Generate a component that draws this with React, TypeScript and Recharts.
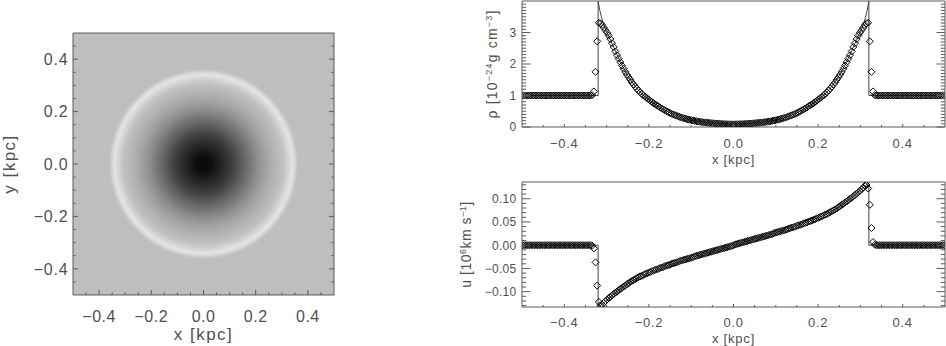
import React from 'react';
import { ComposedChart, XAxis, YAxis, Scatter, Line, ReferenceArea } from 'recharts';

// ---------- data ----------
const CELL_COUNT = 256;
const cellX = Array.from({ length: CELL_COUNT }, (_, i) => -0.5 + (i + 0.5) / CELL_COUNT);

// density per cell, 10^-24 g cm^-3
const rhoValues = [
  1, 1, 1, 1, 1, 1, 1, 1, 1, 1, 1, 1, 1, 1, 1, 1,
  1, 1, 1, 1, 1, 1, 1, 1, 1, 1, 1, 1, 1, 1, 1, 1,
  1, 1, 1, 1, 1, 1, 1, 1, 1, 1, 1.01, 1.13, 1.75, 2.72, 3.31, 3.29,
  3.24, 3.15, 3.07, 2.99, 2.9, 2.79, 2.66, 2.54, 2.4, 2.28, 2.17, 2.06, 1.95, 1.85, 1.75, 1.66,
  1.58, 1.5, 1.42, 1.35, 1.28, 1.22, 1.16, 1.1, 1.05, 1.0, 0.96, 0.92, 0.88, 0.84, 0.8, 0.76,
  0.72, 0.69, 0.66, 0.62, 0.59, 0.56, 0.53, 0.5, 0.47, 0.45, 0.42, 0.4, 0.38, 0.36, 0.34, 0.32,
  0.3, 0.285, 0.27, 0.255, 0.24, 0.23, 0.215, 0.205, 0.195, 0.185, 0.175, 0.167, 0.16, 0.152, 0.145, 0.14,
  0.135, 0.13, 0.125, 0.12, 0.115, 0.11, 0.107, 0.104, 0.1, 0.097, 0.094, 0.091, 0.089, 0.087, 0.085, 0.084,
  0.084, 0.085, 0.087, 0.089, 0.091, 0.094, 0.097, 0.1, 0.104, 0.107, 0.11, 0.115, 0.12, 0.125, 0.13, 0.135,
  0.14, 0.145, 0.152, 0.16, 0.167, 0.175, 0.185, 0.195, 0.205, 0.215, 0.23, 0.24, 0.255, 0.27, 0.285, 0.3,
  0.32, 0.34, 0.36, 0.38, 0.4, 0.42, 0.45, 0.47, 0.5, 0.53, 0.56, 0.59, 0.62, 0.66, 0.69, 0.72,
  0.76, 0.8, 0.84, 0.88, 0.92, 0.96, 1.0, 1.05, 1.1, 1.16, 1.22, 1.28, 1.35, 1.42, 1.5, 1.58,
  1.66, 1.75, 1.85, 1.95, 2.06, 2.17, 2.28, 2.4, 2.54, 2.66, 2.79, 2.9, 2.99, 3.07, 3.15, 3.24,
  3.29, 3.31, 2.72, 1.75, 1.13, 1.01, 1, 1, 1, 1, 1, 1, 1, 1, 1, 1,
  1, 1, 1, 1, 1, 1, 1, 1, 1, 1, 1, 1, 1, 1, 1, 1,
  1, 1, 1, 1, 1, 1, 1, 1, 1, 1, 1, 1, 1, 1, 1, 1,
];

// velocity per cell, 10^6 km s^-1
const uValues = [
  0, 0, 0, 0, 0, 0, 0, 0, 0, 0, 0, 0, 0, 0, 0, 0,
  0, 0, 0, 0, 0, 0, 0, 0, 0, 0, 0, 0, 0, 0, 0, 0,
  0, 0, 0, 0, 0, 0, 0, 0, 0, 0, -0.001, -0.007, -0.037, -0.087, -0.122, -0.1295,
  -0.128, -0.124, -0.12, -0.117, -0.114, -0.111, -0.108, -0.105, -0.102, -0.1, -0.097, -0.094, -0.092, -0.089, -0.087, -0.084,
  -0.082, -0.079, -0.077, -0.075, -0.073, -0.071, -0.069, -0.067, -0.066, -0.064, -0.062, -0.061, -0.059, -0.058, -0.056, -0.055,
  -0.053, -0.052, -0.051, -0.049, -0.048, -0.047, -0.045, -0.044, -0.043, -0.042, -0.04, -0.039, -0.038, -0.037, -0.036, -0.034,
  -0.033, -0.032, -0.031, -0.03, -0.029, -0.028, -0.027, -0.026, -0.024, -0.023, -0.022, -0.021, -0.02, -0.019, -0.018, -0.017,
  -0.016, -0.015, -0.014, -0.013, -0.012, -0.011, -0.01, -0.009, -0.008, -0.007, -0.006, -0.005, -0.004, -0.003, -0.002, -0.001,
  0.001, 0.002, 0.003, 0.004, 0.005, 0.006, 0.007, 0.008, 0.009, 0.01, 0.011, 0.012, 0.013, 0.014, 0.015, 0.016,
  0.017, 0.018, 0.019, 0.02, 0.021, 0.022, 0.023, 0.024, 0.026, 0.027, 0.028, 0.029, 0.03, 0.031, 0.032, 0.033,
  0.034, 0.036, 0.037, 0.038, 0.039, 0.04, 0.042, 0.043, 0.044, 0.045, 0.047, 0.048, 0.049, 0.051, 0.052, 0.053,
  0.055, 0.056, 0.058, 0.059, 0.061, 0.062, 0.064, 0.066, 0.067, 0.069, 0.071, 0.073, 0.075, 0.077, 0.079, 0.082,
  0.084, 0.087, 0.089, 0.092, 0.094, 0.097, 0.1, 0.102, 0.105, 0.108, 0.111, 0.114, 0.117, 0.12, 0.124, 0.128,
  0.1295, 0.122, 0.087, 0.037, 0.007, 0.001, 0, 0, 0, 0, 0, 0, 0, 0, 0, 0,
  0, 0, 0, 0, 0, 0, 0, 0, 0, 0, 0, 0, 0, 0, 0, 0,
  0, 0, 0, 0, 0, 0, 0, 0, 0, 0, 0, 0, 0, 0, 0, 0,
];

// analytic solution (solid line)
const lineX = [
  -0.5, -0.32, -0.32, -0.316, -0.312, -0.308, -0.304, -0.3, -0.29, -0.28, -0.27, -0.26, -0.25, -0.24,
  -0.23, -0.22, -0.21, -0.2, -0.18, -0.16, -0.14, -0.12, -0.1, -0.08, -0.06, -0.04, -0.02,
  0,
  0.02, 0.04, 0.06, 0.08, 0.1, 0.12, 0.14, 0.16, 0.18, 0.2, 0.21, 0.22, 0.23, 0.24,
  0.25, 0.26, 0.27, 0.28, 0.29, 0.3, 0.304, 0.308, 0.312, 0.316, 0.32, 0.32, 0.5,
];
const rhoLine = [
  1, 1, 4.0, 3.7, 3.48, 3.3, 3.15, 3.02, 2.74, 2.44, 2.14, 1.87, 1.63, 1.43,
  1.25, 1.1, 0.97, 0.87, 0.68, 0.52, 0.39, 0.29, 0.22, 0.17, 0.135, 0.11, 0.095,
  0.085,
  0.095, 0.11, 0.135, 0.17, 0.22, 0.29, 0.39, 0.52, 0.68, 0.87, 0.97, 1.1, 1.25, 1.43,
  1.63, 1.87, 2.14, 2.44, 2.74, 3.02, 3.15, 3.3, 3.48, 3.7, 4.0, 1, 1,
];
const uLine = [
  0, 0, -0.134, -0.131, -0.128, -0.125, -0.122, -0.119, -0.111, -0.103, -0.096, -0.089, -0.083, -0.077,
  -0.072, -0.068, -0.063, -0.059, -0.052, -0.045, -0.039, -0.033, -0.027, -0.021, -0.016, -0.011, -0.005,
  0,
  0.005, 0.011, 0.016, 0.021, 0.027, 0.033, 0.039, 0.045, 0.052, 0.059, 0.063, 0.068, 0.072, 0.077,
  0.083, 0.089, 0.096, 0.103, 0.111, 0.119, 0.122, 0.125, 0.128, 0.131, 0.134, 0, 0,
];

// 2-D density map: radial grey profile (radius in kpc, grey level 0-255)
const blastRadius = [0, 0.03, 0.06, 0.09, 0.12, 0.15, 0.18, 0.21, 0.24, 0.27, 0.295, 0.31, 0.325, 0.338, 0.345, 0.352, 0.358, 0.365];
const blastGray = [10, 14, 32, 50, 70, 96, 120, 144, 163, 178, 188, 196, 212, 226, 224, 210, 197, 190];
const ambientGray = 190;

// ticks
const kpcMajor = [-0.4, -0.2, 0, 0.2, 0.4];
const kpcLabels = ['\u22120.4', '\u22120.2', '0.0', '0.2', '0.4'];
const kpcMinor = [-0.45, -0.35, -0.3, -0.25, -0.15, -0.1, -0.05, 0.05, 0.1, 0.15, 0.25, 0.3, 0.35, 0.45];
const rhoMajor = [0, 1, 2, 3];
const rhoLabels = ['0', '1', '2', '3'];
const rhoMinor = [
  0.1, 0.2, 0.3, 0.4, 0.5, 0.6, 0.7, 0.8, 0.9, 1.1, 1.2, 1.3, 1.4, 1.5, 1.6, 1.7, 1.8, 1.9,
  2.1, 2.2, 2.3, 2.4, 2.5, 2.6, 2.7, 2.8, 2.9, 3.1, 3.2, 3.3, 3.4, 3.5, 3.6, 3.7, 3.8, 3.9,
];
const uMajor = [-0.1, -0.05, 0, 0.05, 0.1];
const uLabels = ['\u22120.10', '\u22120.05', '0.00', '0.05', '0.10'];
const uMinor = [
  -0.13, -0.12, -0.11, -0.09, -0.08, -0.07, -0.06, -0.04, -0.03, -0.02, -0.01,
  0.01, 0.02, 0.03, 0.04, 0.06, 0.07, 0.08, 0.09, 0.11, 0.12, 0.13,
];

const kpcDomain = [-0.5, 0.5];
const rhoDomain = [0, 4];
const uDomain = [-0.133, 0.136];

// ---------- derived tables ----------
const rhoPoints = cellX.map((x, i) => ({ x, y: rhoValues[i] }));
const uPoints = cellX.map((x, i) => ({ x, y: uValues[i] }));
const rhoLineData = lineX.map((x, i) => ({ x, y: rhoLine[i] }));
const uLineData = lineX.map((x, i) => ({ x, y: uLine[i] }));
const allTicks = (a: number[], b: number[]) => [...a, ...b].sort((p, q) => p - q);

// ---------- styles ----------
const AXIS = '#5a5a5a';
const TEXT = '#505050';
const FONT = '"Liberation Sans", Arial, Helvetica, sans-serif';

type Side = 'bottom' | 'top' | 'left' | 'right';
interface TickSpec {
  majors: number[];
  labels?: string[];
  majorLen: number;
  minorLen: number;
  fontSize?: number;
  offset?: number;
  spacing?: number;
}

function makeTick(side: Side, spec: TickSpec) {
  return (props: any) => {
    const { x, y, payload } = props;
    const v = Number(payload?.value);
    const idx = spec.majors.findIndex((m) => Math.abs(m - v) < 1e-9);
    const len = idx >= 0 ? spec.majorLen : spec.minorLen;
    let x2 = x;
    let y2 = y;
    if (side === 'bottom') y2 = y - len;
    if (side === 'top') y2 = y + len;
    if (side === 'left') x2 = x + len;
    if (side === 'right') x2 = x - len;
    const label = idx >= 0 && spec.labels ? spec.labels[idx] : null;
    const textProps = {
      fill: TEXT,
      fontSize: spec.fontSize,
      fontFamily: FONT,
      letterSpacing: spec.spacing ?? 0,
    };
    return (
      <g>
        <line x1={x} y1={y} x2={x2} y2={y2} stroke={AXIS} strokeWidth={1} />
        {label !== null && side === 'bottom' && (
          <text x={x} y={y + (spec.offset ?? 0)} textAnchor="middle" {...textProps}>
            {label}
          </text>
        )}
        {label !== null && side === 'left' && (
          <text x={x - (spec.offset ?? 0)} y={y} dy="0.36em" textAnchor="end" {...textProps}>
            {label}
          </text>
        )}
      </g>
    );
  };
}

const xTitle = (content: React.ReactNode, dy: number, fontSize: number, spacing: number) => (props: any) => {
  const vb = props.viewBox || {};
  return (
    <text
      x={vb.x + vb.width / 2}
      y={vb.y + dy}
      textAnchor="middle"
      fill={TEXT}
      fontSize={fontSize}
      fontFamily={FONT}
      letterSpacing={spacing}
    >
      {content}
    </text>
  );
};

const yTitle = (content: React.ReactNode, dx: number, fontSize: number, spacing: number) => (props: any) => {
  const vb = props.viewBox || {};
  return (
    <text
      transform={`translate(${vb.x + dx}, ${vb.y + vb.height / 2}) rotate(-90)`}
      textAnchor="middle"
      fill={TEXT}
      fontSize={fontSize}
      fontFamily={FONT}
      letterSpacing={spacing}
    >
      {content}
    </text>
  );
};

const Diamond = (props: any) => {
  const { cx, cy } = props;
  if (cx == null || cy == null) return <g />;
  const h = 3.5;
  return (
    <path
      d={`M${cx},${cy - h}L${cx + h},${cy}L${cx},${cy + h}L${cx - h},${cy}Z`}
      fill="none"
      stroke="#0a0a0a"
      strokeWidth={1}
    />
  );
};

const BlastShape = (props: any) => {
  const { x, y, width, height } = props;
  const outer = blastRadius[blastRadius.length - 1];
  return (
    <g>
      <defs>
        <radialGradient id="blastGrad" cx="50%" cy="50%" r="50%">
          {blastRadius.map((r, i) => (
            <stop
              key={i}
              offset={`${(r / outer) * 100}%`}
              stopColor={`rgb(${blastGray[i]},${blastGray[i]},${blastGray[i]})`}
            />
          ))}
        </radialGradient>
      </defs>
      <ellipse cx={x + width / 2} cy={y + height / 2} rx={width / 2} ry={height / 2} fill="url(#blastGrad)" />
    </g>
  );
};

// ---------- frame axes (IDL style: ticks inward on all sides) ----------
function frameAxes(opts: {
  xMajor: number[];
  xMinor: number[];
  xLabels: string[];
  xDomain: number[];
  yMajor: number[];
  yMinor: number[];
  yLabels: string[];
  yDomain: number[];
  xAxisHeight: number;
  yAxisWidth: number;
  xLen: [number, number];
  yLen: [number, number];
  xFont: number;
  yFont: number;
  xOffset: number;
  yOffset: number;
  xSpacing: number;
  ySpacing: number;
  xLabel: any;
  yLabel: any;
}) {
  const xt = allTicks(opts.xMajor, opts.xMinor);
  const yt = allTicks(opts.yMajor, opts.yMinor);
  const common = { type: 'number' as const, allowDataOverflow: true, interval: 0 as const, tickSize: 0, tickMargin: 0, tickLine: false };
  const line = { stroke: AXIS, strokeWidth: 1 };
  return [
    <XAxis
      key="xb"
      xAxisId="b"
      dataKey="x"
      orientation="bottom"
      domain={opts.xDomain}
      ticks={xt}
      height={opts.xAxisHeight}
      axisLine={line}
      tick={makeTick('bottom', {
        majors: opts.xMajor,
        labels: opts.xLabels,
        majorLen: opts.xLen[0],
        minorLen: opts.xLen[1],
        fontSize: opts.xFont,
        offset: opts.xOffset,
        spacing: opts.xSpacing,
      })}
      label={opts.xLabel}
      {...common}
    />,
    <XAxis
      key="xt"
      xAxisId="t"
      orientation="top"
      mirror
      domain={opts.xDomain}
      ticks={xt}
      axisLine={line}
      tick={makeTick('top', { majors: opts.xMajor, majorLen: opts.xLen[0], minorLen: opts.xLen[1] })}
      {...common}
    />,
    <YAxis
      key="yl"
      yAxisId="l"
      orientation="left"
      domain={opts.yDomain}
      ticks={yt}
      width={opts.yAxisWidth}
      axisLine={line}
      tick={makeTick('left', {
        majors: opts.yMajor,
        labels: opts.yLabels,
        majorLen: opts.yLen[0],
        minorLen: opts.yLen[1],
        fontSize: opts.yFont,
        offset: opts.yOffset,
        spacing: opts.ySpacing,
      })}
      label={opts.yLabel}
      {...common}
    />,
    <YAxis
      key="yr"
      yAxisId="r"
      orientation="right"
      mirror
      domain={opts.yDomain}
      ticks={yt}
      axisLine={line}
      tick={makeTick('right', { majors: opts.yMajor, majorLen: opts.yLen[0], minorLen: opts.yLen[1] })}
      {...common}
    />,
  ];
}

const supStyle = { fontSize: 9 };

export default function App() {
  const outer = blastRadius[blastRadius.length - 1];
  return (
    <div style={{ position: 'absolute', left: 0, top: 0, width: 946, height: 346, background: '#fff', fontFamily: FONT }}>
      {/* left: 2-D density map */}
      <div style={{ position: 'absolute', left: 0, top: 0 }}>
        <ComposedChart width={350} height={346} margin={{ top: 33, right: 16, bottom: 0, left: 0 }}>
          <ReferenceArea
            xAxisId="b"
            yAxisId="l"
            x1={kpcDomain[0]}
            x2={kpcDomain[1]}
            y1={kpcDomain[0]}
            y2={kpcDomain[1]}
            fill={`rgb(${ambientGray},${ambientGray},${ambientGray})`}
            fillOpacity={1}
            stroke="none"
          />
          <ReferenceArea xAxisId="b" yAxisId="l" x1={-outer} x2={outer} y1={-outer} y2={outer} shape={BlastShape} />
          {frameAxes({
            xMajor: kpcMajor,
            xMinor: kpcMinor,
            xLabels: kpcLabels,
            xDomain: kpcDomain,
            yMajor: kpcMajor,
            yMinor: kpcMinor,
            yLabels: kpcLabels,
            yDomain: kpcDomain,
            xAxisHeight: 51,
            yAxisWidth: 73,
            xLen: [5, 2.6],
            yLen: [5, 2.6],
            xFont: 16,
            yFont: 16,
            xOffset: 26.5,
            yOffset: 4.5,
            xSpacing: 0.5,
            ySpacing: 0.8,
            xLabel: xTitle('x [kpc]', 45, 17, 1.5),
            yLabel: yTitle('y [kpc]', 14.5, 17, 1.5),
          })}
        </ComposedChart>
      </div>

      {/* top right: density profile */}
      <div style={{ position: 'absolute', left: 440, top: 0 }}>
        <ComposedChart width={506} height={170} margin={{ top: 1, right: 1, bottom: 0, left: 0 }}>
          {frameAxes({
            xMajor: kpcMajor,
            xMinor: kpcMinor,
            xLabels: kpcLabels,
            xDomain: kpcDomain,
            yMajor: rhoMajor,
            yMinor: rhoMinor,
            yLabels: rhoLabels,
            yDomain: rhoDomain,
            xAxisHeight: 43,
            yAxisWidth: 82,
            xLen: [3, 2],
            yLen: [8.5, 4.2],
            xFont: 13,
            yFont: 12,
            xOffset: 21,
            yOffset: 5.5,
            xSpacing: 0.7,
            ySpacing: 0.3,
            xLabel: xTitle('x [kpc]', 37, 13, 0.8),
            yLabel: yTitle(
              <>
                <tspan>{'\u03c1 [10'}</tspan>
                <tspan dy={-5} style={supStyle}>{'\u221224'}</tspan>
                <tspan dy={5}>g cm</tspan>
                <tspan dy={-5} style={supStyle}>{'\u22123'}</tspan>
                <tspan dy={5}>]</tspan>
              </>,
              57,
              14,
              1.2,
            ),
          })}
          <Line
            xAxisId="b"
            yAxisId="l"
            data={rhoLineData}
            dataKey="y"
            type="linear"
            stroke="#444"
            strokeWidth={1}
            dot={false}
            activeDot={false}
            isAnimationActive={false}
          />
          <Scatter xAxisId="b" yAxisId="l" data={rhoPoints} dataKey="y" shape={Diamond} isAnimationActive={false} />
        </ComposedChart>
      </div>

      {/* bottom right: velocity profile */}
      <div style={{ position: 'absolute', left: 440, top: 170 }}>
        <ComposedChart width={506} height={176} margin={{ top: 12, right: 1, bottom: 0, left: 0 }}>
          {frameAxes({
            xMajor: kpcMajor,
            xMinor: kpcMinor,
            xLabels: kpcLabels,
            xDomain: kpcDomain,
            yMajor: uMajor,
            yMinor: uMinor,
            yLabels: uLabels,
            yDomain: uDomain,
            xAxisHeight: 39,
            yAxisWidth: 82,
            xLen: [3, 2],
            yLen: [8.5, 4.2],
            xFont: 13,
            yFont: 12,
            xOffset: 19.5,
            yOffset: 5.5,
            xSpacing: 0.7,
            ySpacing: 0.3,
            xLabel: xTitle('x [kpc]', 36, 13, 0.8),
            yLabel: yTitle(
              <>
                <tspan>u [10</tspan>
                <tspan dy={-5} style={supStyle}>6</tspan>
                <tspan dy={5}>km s</tspan>
                <tspan dy={-5} style={supStyle}>{'\u22121'}</tspan>
                <tspan dy={5}>]</tspan>
              </>,
              30.5,
              14,
              0.5,
            ),
          })}
          <Line
            xAxisId="b"
            yAxisId="l"
            data={uLineData}
            dataKey="y"
            type="linear"
            stroke="#444"
            strokeWidth={1}
            dot={false}
            activeDot={false}
            isAnimationActive={false}
          />
          <Scatter xAxisId="b" yAxisId="l" data={uPoints} dataKey="y" shape={Diamond} isAnimationActive={false} />
        </ComposedChart>
      </div>
    </div>
  );
}
